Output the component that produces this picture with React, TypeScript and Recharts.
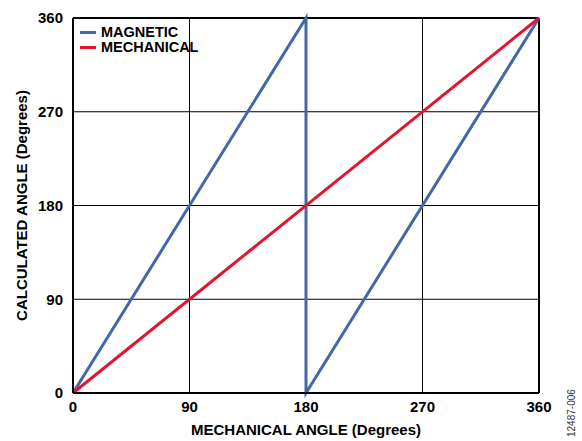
import { LineChart, Line, XAxis, YAxis, CartesianGrid, ReferenceLine, Label } from "recharts"

const angleTicks = [0, 90, 180, 270, 360]

const magneticX = [0, 180, 180, 360]
const magneticY = [0, 360, 0, 360]
const mechanicalX = [0, 360]
const mechanicalY = [0, 360]

const series = [
  { name: "MAGNETIC", color: "#4467A6", xs: magneticX, ys: magneticY },
  { name: "MECHANICAL", color: "#E2142F", xs: mechanicalX, ys: mechanicalY },
]

const font = "Arial, 'Liberation Sans', Helvetica, sans-serif"

function ChartLegend() {
  return (
    <div
      style={{
        position: "absolute",
        left: 80,
        top: 25,
        fontFamily: font,
        fontWeight: 700,
        fontSize: 14.5,
        lineHeight: "15px",
        color: "#000",
      }}
    >
      {series.map((s) => (
        <div key={s.name} style={{ display: "flex", alignItems: "center", height: 15 }}>
          <span style={{ display: "inline-block", width: 16, height: 3, background: s.color, marginRight: 5 }} />
          <span>{s.name}</span>
        </div>
      ))}
    </div>
  )
}

export default function App() {
  const tickStyle = { fontFamily: font, fontWeight: 700, fontSize: 15, fill: "#000" }
  return (
    <div style={{ position: "absolute", left: 0, top: 0, width: 582, height: 441, background: "#fff" }}>
      <LineChart width={582} height={441} margin={{ top: 18, right: 43, bottom: 18, left: 43 }}>
        <CartesianGrid stroke="#000" strokeWidth={1} />
        <XAxis
          type="number"
          dataKey="x"
          domain={[0, 360]}
          ticks={angleTicks}
          allowDuplicatedCategory={false}
          height={30}
          tickSize={0}
          tickMargin={8}
          tickLine={false}
          axisLine={{ stroke: "#000", strokeWidth: 2 }}
          tick={tickStyle}
        >
          <Label
            value="MECHANICAL ANGLE (Degrees)"
            position="insideBottom"
            offset={-12}
            style={{ fontFamily: font, fontWeight: 700, fontSize: 15, fill: "#000" }}
          />
        </XAxis>
        <YAxis
          type="number"
          domain={[0, 360]}
          ticks={angleTicks}
          width={30}
          tickSize={0}
          tickMargin={10}
          tickLine={false}
          axisLine={{ stroke: "#000", strokeWidth: 2 }}
          tick={tickStyle}
        >
          <Label
            value="CALCULATED ANGLE (Degrees)"
            angle={-90}
            position="insideLeft"
            offset={-21}
            style={{ fontFamily: font, fontWeight: 700, fontSize: 15, fill: "#000", textAnchor: "middle" }}
          />
        </YAxis>
        <ReferenceLine x={360} stroke="#000" strokeWidth={2} />
        <ReferenceLine y={360} stroke="#000" strokeWidth={2} />
        {series.map((s) => (
          <Line
            key={s.name}
            data={s.xs.map((x, i) => ({ x, y: s.ys[i] }))}
            dataKey="y"
            name={s.name}
            type="linear"
            stroke={s.color}
            strokeWidth={3}
            dot={false}
            activeDot={false}
            isAnimationActive={false}
          />
        ))}
      </LineChart>
      <ChartLegend />
      <div
        style={{
          position: "absolute",
          left: 566,
          top: 437,
          transform: "rotate(-90deg)",
          transformOrigin: "0 0",
          fontFamily: font,
          fontSize: 10,
          color: "#333",
          whiteSpace: "nowrap",
        }}
      >
        12487-006
      </div>
    </div>
  )
}
